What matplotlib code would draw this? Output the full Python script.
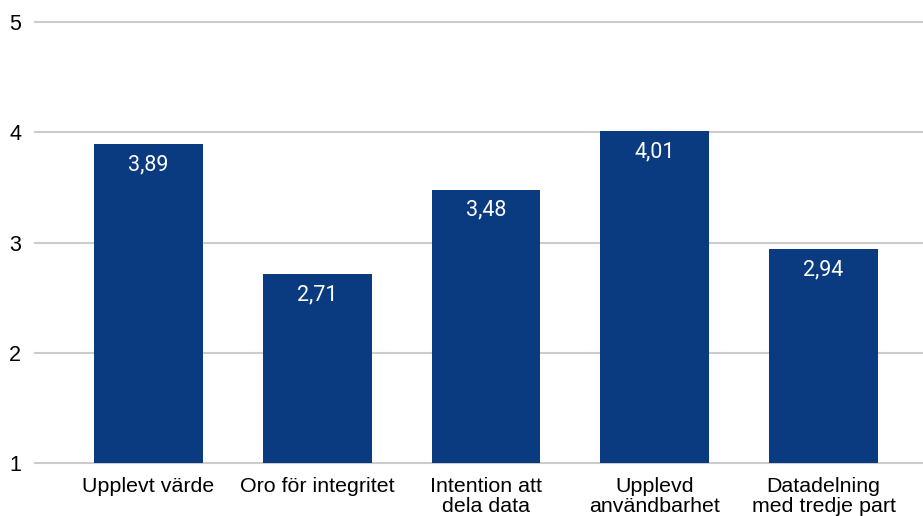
import matplotlib.pyplot as plt

categories = ["Upplevt värde", "Oro för integritet", "Intention att\ndela data",
              "Upplevd\nanvändbarhet", "Datadelning\nmed tredje part"]
values = [3.89, 2.71, 3.48, 4.01, 2.94]
value_labels = ["3,89", "2,71", "3,48", "4,01", "2,94"]
yticks = [1, 2, 3, 4, 5]

bar_color = "#0a3a80"
grid_color = "#cccccc"

fig = plt.figure(figsize=(9.23, 5.16), dpi=100)
ax = fig.add_axes([35/923, 53/516, 1 - 35/923, 441/516])

x = list(range(len(categories)))
ax.bar(x, [v - 1 for v in values], bottom=1, width=0.645, color=bar_color, zorder=3)

# value labels sit inside the top of each bar
for xi, v, lab in zip(x, values, value_labels):
    ax.annotate(lab, (xi, v), xytext=(0, -20.5), textcoords="offset pixels",
                ha="center", va="center", color="white", fontsize=15.5,
                family="Roboto", zorder=4)

ax.set_ylim(1, 5)
ax.set_xlim(-0.672, 4.589)
ax.set_yticks(yticks)
ax.set_yticklabels([str(t) for t in yticks], family="Liberation Sans", fontsize=15.5)
ax.set_xticks(x)
ax.set_xticklabels(categories, family="Liberation Sans", fontsize=15.4, linespacing=1.1)
ax.tick_params(axis="both", length=0)
ax.tick_params(axis="y", pad=10)
ax.tick_params(axis="x", pad=10)

for t in yticks:
    ax.axhline(t, color=grid_color, lw=1.5, zorder=1, clip_on=False)

for s in ax.spines.values():
    s.set_visible(False)

fig.savefig("out.png", dpi=100)
